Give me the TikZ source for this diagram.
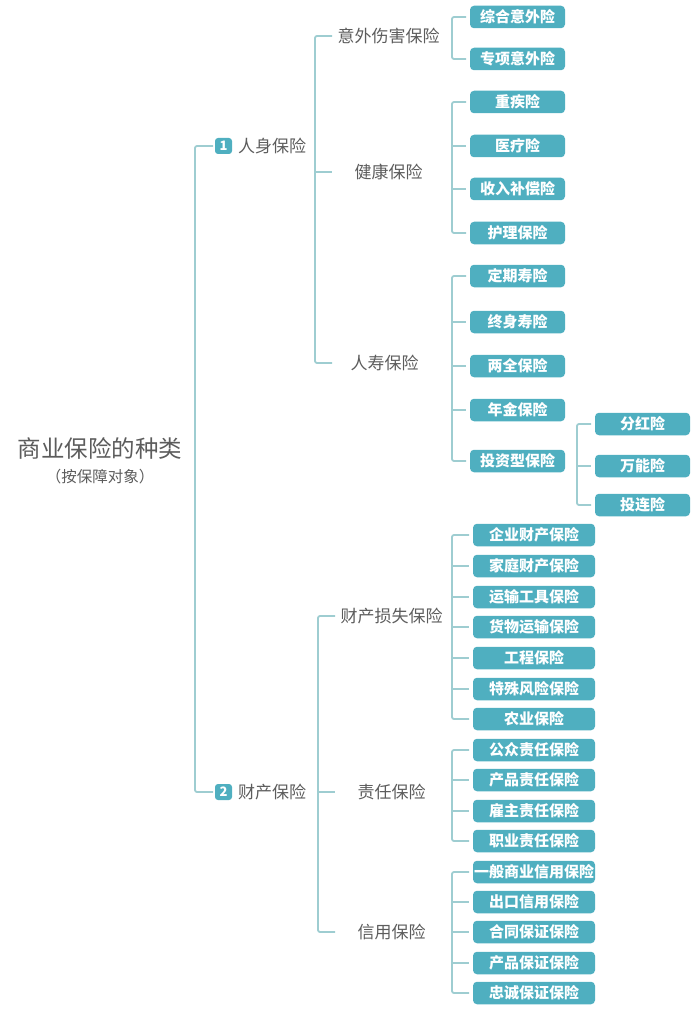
\documentclass[tikz,border=0pt]{standalone}
\usepackage{fontspec}
\setmainfont{Noto Sans CJK SC}
\usetikzlibrary{calc}

\definecolor{boxteal}{HTML}{4FAFC0}
\definecolor{linegray}{HTML}{9ECDD1}
\definecolor{textgray}{HTML}{5C5C5C}

\tikzset{
	link/.style={draw=linegray, line width=1.8pt, rounded corners=2pt},
	leaf/.style={fill=boxteal, text=white, rounded corners=4pt, minimum width=95pt, minimum height=22.5pt, inner sep=0pt, outer sep=4pt, font=\fontsize{15}{15}\selectfont\bfseries},
	wideleaf/.style={leaf, minimum width=122pt},
	mid/.style={text=textgray, minimum width=103pt, inner sep=0pt, outer sep=5pt, anchor=west, font=\fontsize{17}{17}\selectfont},
	badge/.style={fill=boxteal, text=white, rounded corners=3pt, minimum width=17pt, minimum height=16pt, inner sep=0pt, outer sep=2pt, font=\fontsize{13}{13}\selectfont\bfseries},
	top/.style={text=textgray, inner sep=0pt, anchor=west, font=\fontsize{17}{17}\selectfont}
}

\begin{document}
\begin{tikzpicture}[x=1pt, y=-1pt]
		\useasboundingbox (0,0) rectangle (698,1024);

		% Root
		\node[text=textgray, font=\fontsize{23.5}{23.5}\selectfont] (root) at (100,448) {商业保险的种类};
		\node[text=textgray, font=\fontsize{15.5}{15.5}\selectfont] (rootsub) at (100,477) {（按保障对象）};

		% Level 1
		\node[badge] (b1) at (223.5,146) {1};
		\node[top] (person) at (238,146) {人身保险};
		\node[badge] (b2) at (223.5,792) {2};
		\node[top] (property) at (238,792) {财产保险};

		\coordinate (sp0) at (195,0);
		\draw[link] (b1.west) -- (b1.west -| sp0) -- (b2.west -| sp0) -- (b2.west);

		% Level 2, personal
		\node[mid] (accident) at (332,36) {意外伤害保险};
		\node[mid] (health) at (332,172) {健康保险};
		\node[mid, minimum width=95pt] (life) at (332,363) {人寿保险};

		\coordinate (sp1) at (315,0);
		\draw[link] (accident.west) -- (accident.west -| sp1) -- (life.west -| sp1) -- (life.west);
		\draw[link] (health.west -| sp1) -- (health.west);

		% Level 2, property
		\node[mid] (loss) at (335,616) {财产损失保险};
		\node[mid] (liab) at (335,792) {责任保险};
		\node[mid] (credit) at (335,932) {信用保险};

		\coordinate (sp2) at (318,0);
		\draw[link] (loss.west) -- (loss.west -| sp2) -- (credit.west -| sp2) -- (credit.west);
		\draw[link] (liab.west -| sp2) -- (liab.west);

		% Accident
		\node[leaf] (a1) at (517.5,17) {综合意外险};
		\node[leaf] (a2) at (517.5,59) {专项意外险};

		\coordinate (sp3) at (452,0);
		\draw[link] (a1.west) -- (a1.west -| sp3) -- (a2.west -| sp3) -- (a2.west);

		% Health
		\node[leaf] (h1) at (517.5,102) {重疾险};
		\node[leaf] (h2) at (517.5,146) {医疗险};
		\node[leaf] (h3) at (517.5,189) {收入补偿险};
		\node[leaf] (h4) at (517.5,233) {护理保险};

		\draw[link] (h1.west) -- (h1.west -| sp3) -- (h4.west -| sp3) -- (h4.west);
		\draw[link] (h2.west -| sp3) -- (h2.west);
		\draw[link] (h3.west -| sp3) -- (h3.west);

		% Life
		\node[leaf] (s1) at (517.5,276) {定期寿险};
		\node[leaf] (s2) at (517.5,322) {终身寿险};
		\node[leaf] (s3) at (517.5,366) {两全保险};
		\node[leaf] (s4) at (517.5,410) {年金保险};
		\node[leaf] (s5) at (517.5,461) {投资型保险};

		\draw[link] (s1.west) -- (s1.west -| sp3) -- (s5.west -| sp3) -- (s5.west);
		\draw[link] (s2.west -| sp3) -- (s2.west);
		\draw[link] (s3.west -| sp3) -- (s3.west);
		\draw[link] (s4.west -| sp3) -- (s4.west);

		% Investment
		\node[leaf] (t1) at (642.5,424) {分红险};
		\node[leaf] (t2) at (642.5,466) {万能险};
		\node[leaf] (t3) at (642.5,505) {投连险};

		\coordinate (sp4) at (577,0);
		\draw[link] (t1.west) -- (t1.west -| sp4) -- (t3.west -| sp4) -- (t3.west);
		\draw[link] (t2.west -| sp4) -- (t2.west);

		% Property loss
		\node[wideleaf] (p1) at (534,535) {企业财产保险};
		\node[wideleaf] (p2) at (534,566) {家庭财产保险};
		\node[wideleaf] (p3) at (534,597) {运输工具保险};
		\node[wideleaf] (p4) at (534,627) {货物运输保险};
		\node[wideleaf] (p5) at (534,658) {工程保险};
		\node[wideleaf] (p6) at (534,689) {特殊风险保险};
		\node[wideleaf] (p7) at (534,719) {农业保险};

		\draw[link] (p1.west) -- (p1.west -| sp3) -- (p7.west -| sp3) -- (p7.west);
		\draw[link] (p2.west -| sp3) -- (p2.west);
		\draw[link] (p3.west -| sp3) -- (p3.west);
		\draw[link] (p4.west -| sp3) -- (p4.west);
		\draw[link] (p5.west -| sp3) -- (p5.west);
		\draw[link] (p6.west -| sp3) -- (p6.west);

		% Liability
		\node[wideleaf] (r1) at (534,750) {公众责任保险};
		\node[wideleaf] (r2) at (534,780) {产品责任保险};
		\node[wideleaf] (r3) at (534,811) {雇主责任保险};
		\node[wideleaf] (r4) at (534,841) {职业责任保险};

		\draw[link] (r1.west) -- (r1.west -| sp3) -- (r4.west -| sp3) -- (r4.west);
		\draw[link] (r2.west -| sp3) -- (r2.west);
		\draw[link] (r3.west -| sp3) -- (r3.west);

		% Credit
		\node[wideleaf] (c1) at (534,872) {一般商业信用保险};
		\node[wideleaf] (c2) at (534,902) {出口信用保险};
		\node[wideleaf] (c3) at (534,932) {合同保证保险};
		\node[wideleaf] (c4) at (534,963) {产品保证保险};
		\node[wideleaf] (c5) at (534,993) {忠诚保证保险};

		\draw[link] (c1.west) -- (c1.west -| sp3) -- (c5.west -| sp3) -- (c5.west);
		\draw[link] (c2.west -| sp3) -- (c2.west);
		\draw[link] (c3.west -| sp3) -- (c3.west);
		\draw[link] (c4.west -| sp3) -- (c4.west);
	\end{tikzpicture}
\end{document}
